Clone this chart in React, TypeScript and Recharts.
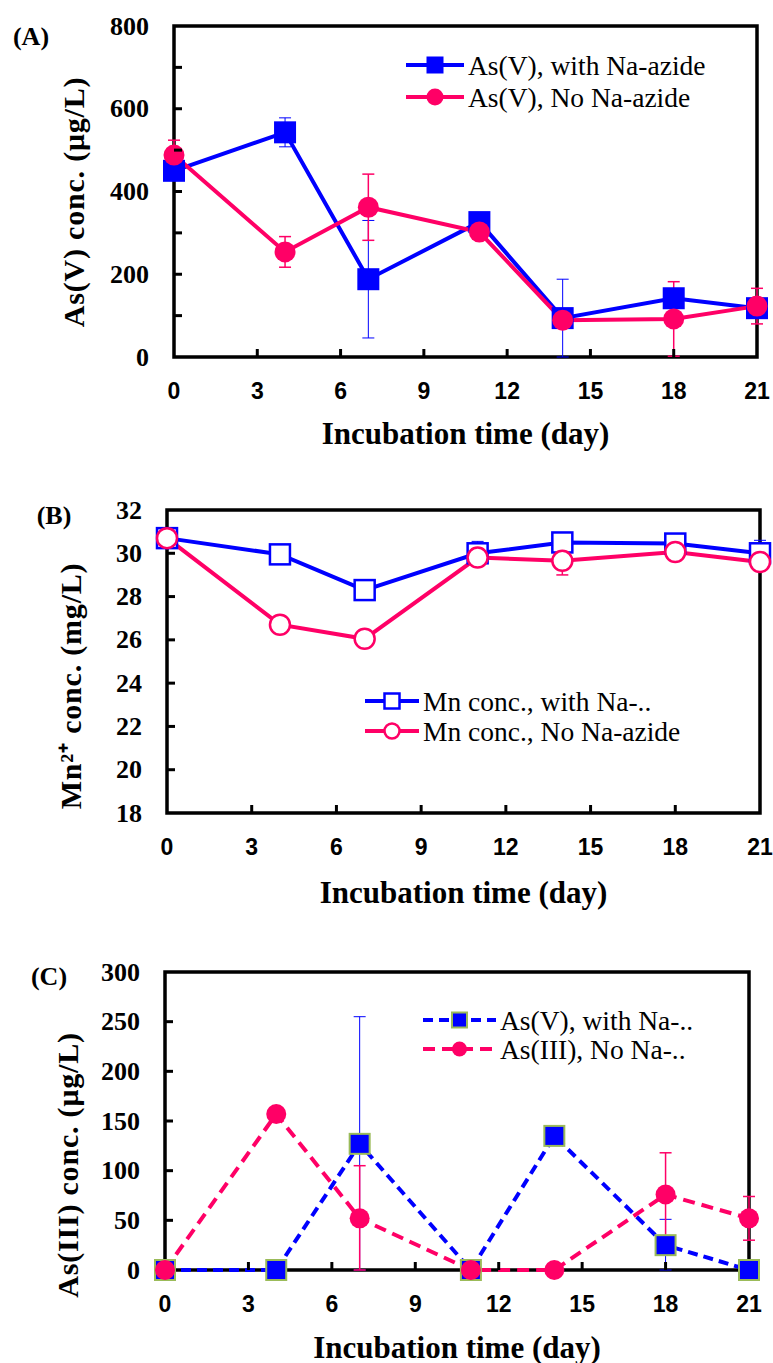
import React from 'react';
import { LineChart, Line, XAxis, YAxis, ErrorBar, ReferenceArea, Legend } from 'recharts';

// ---------- shared ----------
const days = [0, 4, 7, 11, 14, 18, 21];
const xTicks = [0, 3, 6, 9, 12, 15, 18, 21];
const xTitle = 'Incubation time (day)';

// ---------- panel A : As(V) ----------
const aWith = [450, 543, 188, 326, 94, 142, 118];
const aWithErr = [10, 35, 142, 10, 94, 10, 10];
const aNo = [488, 254, 362, 302, 89, 92, 123];
const aNoErr = [36, 37, 80, 10, 10, 90, 43];
const aTicks = [0, 100, 200, 300, 400, 500, 600, 700, 800];
const aLabelStep = 200;
const aNames = ['As(V), with Na-azide', 'As(V), No Na-azide'];

// ---------- panel B : Mn ----------
const bWith = [30.7, 29.95, 28.3, 30.0, 30.5, 30.45, 30.0];
const bWithErr = [0.1, 0.1, 0.1, 0.55, 0.1, 0.1, 0.6];
const bNo = [30.7, 26.7, 26.05, 29.8, 29.65, 30.06, 29.6];
const bNoErr = [0.1, 0.1, 0.1, 0.1, 0.65, 0.1, 0.1];
const bTicks = [18, 20, 22, 24, 26, 28, 30, 32];
const bLabelStep = 2;
const bNames = ['Mn conc., with Na-..', 'Mn conc., No Na-azide'];

// ---------- panel C : As(III) ----------
const cWith = [0, 0, 127, 0, 135, 25, 0];
const cWithErr: (number | number[])[] = [0, 0, [127, 128], 0, 0, [25, 26], 0];
const cNo = [0, 157, 52, 0, 0, 76, 52];
const cNoErr: (number | number[])[] = [0, 0, [52, 53], 0, 0, 42, 22];
const cTicks = [0, 50, 100, 150, 200, 250, 300];
const cLabelStep = 50;
const cNames = ['As(V), with Na-..', 'As(III), No Na-..'];

const BLUE = '#0000ff';
const PINK = '#ff0066';
const OLIVE = '#9bbb59';
const SERIF = "'Liberation Serif', 'Times New Roman', serif";
const SANS = "'Liberation Sans Narrow', 'Liberation Sans', Arial, sans-serif";

const build = (w: any[], we: any[], n: any[], ne: any[]) =>
  days.map((d, i) => ({ day: d, w: w[i], we: we[i], n: n[i], ne: ne[i] }));

const dataA = build(aWith, aWithErr, aNo, aNoErr);
const dataB = build(bWith, bWithErr, bNo, bNoErr);
const dataC = build(cWith, cWithErr, cNo, cNoErr);

type Kind = 'square' | 'circle' | 'openSquare' | 'openCircle' | 'oliveSquare';

function Marker({ kind, cx, cy, size }: { kind: Kind; cx: number; cy: number; size: number }) {
  if (cx == null || cy == null) return null;
  const h = size / 2;
  switch (kind) {
    case 'square':
      return <rect x={cx - h} y={cy - h} width={size} height={size} fill={BLUE} />;
    case 'oliveSquare':
      return <rect x={cx - h} y={cy - h} width={size} height={size} fill={BLUE} stroke={OLIVE} strokeWidth={2} />;
    case 'openSquare':
      return <rect x={cx - h} y={cy - h} width={size} height={size} fill="#fff" stroke={BLUE} strokeWidth={2.5} />;
    case 'circle':
      return <circle cx={cx} cy={cy} r={h} fill={PINK} />;
    case 'openCircle':
      return <circle cx={cx} cy={cy} r={h} fill="#fff" stroke={PINK} strokeWidth={2.5} />;
  }
  return null;
}

const dotFn = (kind: Kind, size: number) => (p: any) => (
  <Marker key={`d-${kind}-${p.index}`} kind={kind} cx={p.cx} cy={p.cy} size={size} />
);

const XTick = (props: any) => {
  const { x, y, payload } = props;
  const v = payload.value;
  const edge = v === xTicks[0] || v === xTicks[xTicks.length - 1];
  return (
    <g>
      {!edge && <line x1={x} y1={y} x2={x} y2={y - 8} stroke="#000" strokeWidth={3} />}
      <text x={x} y={y + 34} textAnchor="middle" dominantBaseline="central" fontFamily={SANS} fontWeight="bold" fontSize={23} fill="#000">
        {v}
      </text>
    </g>
  );
};

const makeYTick = (ticks: number[], step: number) => (props: any) => {
  const { x, y, payload } = props;
  const v = payload.value;
  const edge = v === ticks[0] || v === ticks[ticks.length - 1];
  const show = Math.abs(((v - ticks[0]) / step) - Math.round((v - ticks[0]) / step)) < 1e-6;
  return (
    <g>
      {!edge && <line x1={x} y1={y} x2={x + 8} y2={y} stroke="#000" strokeWidth={3} />}
      {show && (
        <text x={x - 25} y={y} textAnchor="end" dominantBaseline="central" fontFamily={SERIF} fontWeight="bold" fontSize={26} fill="#000">
          {v}
        </text>
      )}
    </g>
  );
};

const makeXTitle = (dy: number) => (props: any) => {
  const vb = props.viewBox || {};
  return (
    <text x={vb.x + vb.width / 2} y={vb.y + dy} textAnchor="middle" dominantBaseline="central" fontFamily={SERIF} fontWeight="bold" fontSize={31} fill="#000">
      {xTitle}
    </text>
  );
};

const makeYTitle = (title: string, cx: number, cy: number, panel: string, px: number, py: number) => () => (
  <g>
    <text x={cx} y={cy} transform={`rotate(-90, ${cx}, ${cy})`} textAnchor="middle" dominantBaseline="central" fontFamily={SERIF} fontWeight="bold" fontSize={30} letterSpacing={0.8} fill="#000">
      {title}
    </text>
    <text x={px} y={py} textAnchor="middle" dominantBaseline="central" fontFamily={SERIF} fontWeight="bold" fontSize={26} fill="#000">
      {panel}
    </text>
  </g>
);

type LegItem = { name: string; color: string; kind: Kind; dash?: string };
const makeLegend = (items: LegItem[], lineLen: number, mSize: number, rowH: number, width: number) => () => (
  <svg width={width} height={rowH * items.length + 10} style={{ display: 'block', overflow: 'visible' }}>
    {items.map((it, i) => {
      const y = 16 + i * rowH;
      return (
        <g key={it.name}>
          <line x1={2} y1={y} x2={2 + lineLen} y2={y} stroke={it.color} strokeWidth={4} strokeDasharray={it.dash} />
          <Marker kind={it.kind} cx={2 + lineLen / 2} cy={y} size={mSize} />
          <text x={lineLen + 6} y={y} dominantBaseline="central" fontFamily={SERIF} fontSize={27.5} fill="#000">
            {it.name}
          </text>
        </g>
      );
    })}
  </svg>
);

export default function App() {
  return (
    <div style={{ position: 'relative', width: 773, height: 1363, background: '#fff', overflow: 'hidden' }}>
      <style>{'body{margin:0;background:#fff}'}</style>

      {/* Panel A */}
      <div style={{ position: 'absolute', left: 0, top: 0 }}>
        <LineChart width={773} height={460} data={dataA} margin={{ top: 26, right: 16, bottom: 73, left: 0 }}>
          <ReferenceArea x1={0} x2={21} y1={0} y2={800} fill="none" fillOpacity={0} stroke="#000" strokeWidth={3.5} />
          <XAxis dataKey="day" type="number" domain={[0, 21]} ticks={xTicks} interval={0} height={30} tickSize={0} tickMargin={0} axisLine={false} tickLine={false} tick={XTick} label={makeXTitle(76)} />
          <YAxis type="number" domain={[0, 800]} ticks={aTicks} interval={0} width={174} tickSize={0} tickMargin={0} axisLine={false} tickLine={false} tick={makeYTick(aTicks, aLabelStep)} label={makeYTitle('As(V) conc. (μg/L)', 73, 202, '(A)', 31, 36)} />
          <Legend layout="vertical" align="center" verticalAlign="middle" wrapperStyle={{ left: 404, top: 49, width: 360 }} content={makeLegend([
            { name: aNames[0], color: BLUE, kind: 'square' },
            { name: aNames[1], color: PINK, kind: 'circle' },
          ], 58, 17, 32, 360)} />
          <Line dataKey="w" name={aNames[0]} stroke={BLUE} strokeWidth={4} isAnimationActive={false} dot={dotFn('square', 22)} activeDot={false}>
            <ErrorBar dataKey="we" width={6} stroke={BLUE} strokeWidth={1} />
          </Line>
          <Line dataKey="n" name={aNames[1]} stroke={PINK} strokeWidth={4} isAnimationActive={false} dot={dotFn('circle', 21)} activeDot={false}>
            <ErrorBar dataKey="ne" width={6} stroke={PINK} strokeWidth={1.5} />
          </Line>
        </LineChart>
      </div>

      {/* Panel B */}
      <div style={{ position: 'absolute', left: 0, top: 470 }}>
        <LineChart width={773} height={440} data={dataB} margin={{ top: 40, right: 13, bottom: 67, left: 0 }}>
          <ReferenceArea x1={0} x2={21} y1={18} y2={32} fill="none" fillOpacity={0} stroke="#000" strokeWidth={3.5} />
          <XAxis dataKey="day" type="number" domain={[0, 21]} ticks={xTicks} interval={0} height={30} tickSize={0} tickMargin={0} axisLine={false} tickLine={false} tick={XTick} label={makeXTitle(79)} />
          <YAxis type="number" domain={[18, 32]} ticks={bTicks} interval={0} width={167} tickSize={0} tickMargin={0} axisLine={false} tickLine={false} tick={makeYTick(bTicks, bLabelStep)} label={makeYTitle('Mn²⁺ conc. (mg/L)', 70, 216, '(B)', 54, 45)} />
          <Legend layout="vertical" align="center" verticalAlign="middle" wrapperStyle={{ left: 363, top: 215, width: 400 }} content={makeLegend([
            { name: bNames[0], color: BLUE, kind: 'openSquare' },
            { name: bNames[1], color: PINK, kind: 'openCircle' },
          ], 54, 15, 30, 400)} />
          <Line dataKey="w" name={bNames[0]} stroke={BLUE} strokeWidth={4} isAnimationActive={false} dot={dotFn('openSquare', 20)} activeDot={false}>
            <ErrorBar dataKey="we" width={6} stroke={BLUE} strokeWidth={1} />
          </Line>
          <Line dataKey="n" name={bNames[1]} stroke={PINK} strokeWidth={4} isAnimationActive={false} dot={dotFn('openCircle', 20)} activeDot={false}>
            <ErrorBar dataKey="ne" width={6} stroke={PINK} strokeWidth={1.5} />
          </Line>
        </LineChart>
      </div>

      {/* Panel C */}
      <div style={{ position: 'absolute', left: 0, top: 950 }}>
        <LineChart width={773} height={413} data={dataC} margin={{ top: 22, right: 24, bottom: 63, left: 0 }}>
          <ReferenceArea x1={0} x2={21} y1={0} y2={300} fill="none" fillOpacity={0} stroke="#000" strokeWidth={3.5} />
          <XAxis dataKey="day" type="number" domain={[0, 21]} ticks={xTicks} interval={0} height={30} tickSize={0} tickMargin={0} axisLine={false} tickLine={false} tick={XTick} label={makeXTitle(77)} />
          <YAxis type="number" domain={[0, 300]} ticks={cTicks} interval={0} width={165} tickSize={0} tickMargin={0} axisLine={false} tickLine={false} tick={makeYTick(cTicks, cLabelStep)} label={makeYTitle('As(III) conc. (μg/L)', 67, 215, '(C)', 49, 26)} />
          <Legend layout="vertical" align="center" verticalAlign="middle" wrapperStyle={{ left: 421, top: 54, width: 340 }} content={makeLegend([
            { name: cNames[0], color: BLUE, kind: 'oliveSquare', dash: '10 6' },
            { name: cNames[1], color: PINK, kind: 'circle', dash: '12 7' },
          ], 73, 15, 29, 340)} />
          <Line dataKey="w" name={cNames[0]} stroke={BLUE} strokeWidth={4} strokeDasharray="10 6" isAnimationActive={false} dot={dotFn('oliveSquare', 20)} activeDot={false}>
            <ErrorBar dataKey="we" width={6} stroke={BLUE} strokeWidth={1} />
          </Line>
          <Line dataKey="n" name={cNames[1]} stroke={PINK} strokeWidth={4} strokeDasharray="12 7" isAnimationActive={false} dot={dotFn('circle', 20)} activeDot={false}>
            <ErrorBar dataKey="ne" width={6} stroke={PINK} strokeWidth={1.5} />
          </Line>
        </LineChart>
      </div>
    </div>
  );
}
